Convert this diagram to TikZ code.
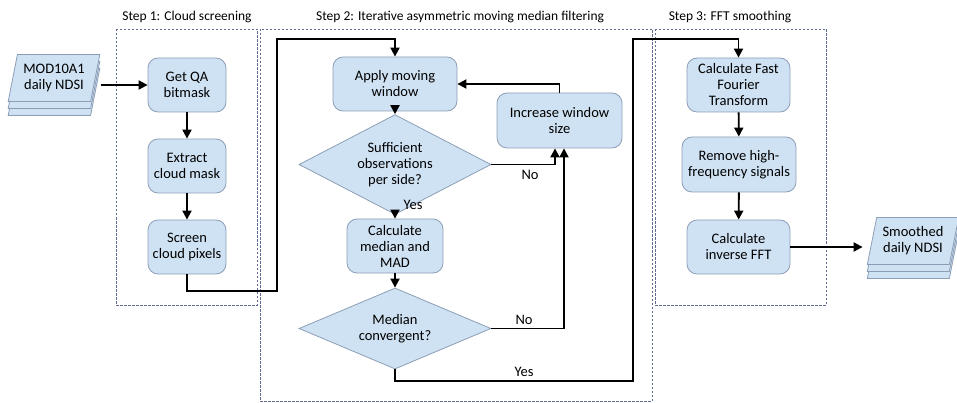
\documentclass[tikz,border=0pt]{standalone}
\usepackage{fontspec}
\setmainfont{Carlito}
\usetikzlibrary{arrows.meta,shapes.geometric,shadows}

\definecolor{boxfill}{RGB}{207,226,243}
\definecolor{boxline}{RGB}{140,158,182}
\definecolor{frameline}{RGB}{95,108,150}

\tikzset{every picture/.style={line width=0.75pt}}
\tikzset{
  procbox/.style={draw=boxline, fill=boxfill, line width=0.8pt, rounded corners=10pt, minimum height=54pt, inner sep=2pt, align=center, font=\fontsize{14.5}{16}\selectfont},
  decbox/.style={diamond, draw=boxline, fill=boxfill, line width=0.8pt, inner xsep=0pt, inner ysep=-10pt, minimum width=192pt, align=center, font=\fontsize{14.5}{16}\selectfont},
  datastack/.style={trapezium, trapezium left angle=76, trapezium right angle=104, trapezium stretches=true, minimum width=92pt, minimum height=47pt, draw=boxline, fill=boxfill, line width=0.8pt, double copy shadow={shadow xshift=0pt, shadow yshift=-7pt, draw=boxline, fill=boxfill, line width=0.8pt}, align=center, font=\fontsize{14.5}{16}\selectfont},
  flow/.style={line width=1.9pt, -{Triangle[length=9pt,width=9pt]}},
  stepframe/.style={draw=frameline, line width=0.8pt, dash pattern=on 2.5pt off 1.5pt},
  steptitle/.style={font=\fontsize{13.5}{15}\selectfont},
  lbl/.style={font=\fontsize{14.5}{16}\selectfont}
}

\begin{document}
\begin{tikzpicture}[x=1pt,y=1pt,yscale=-1,xscale=1]
	\useasboundingbox (0,0) rectangle (957,403);

	%Shape: Rectangle (step frames)
	\draw [stepframe] (116,29) rectangle (257,305);
	\draw [stepframe] (260,29) rectangle (652,401);
	\draw [stepframe] (655,29) rectangle (826,305);

	% Text Node
	\draw (187,17) node [steptitle] (t1) {Step 1: Cloud screening};
	% Text Node
	\draw (460,17) node [steptitle] (t2) {Step 2: Iterative asymmetric moving median filtering};
	% Text Node
	\draw (730,17) node [steptitle] (t3) {Step 3: FFT smoothing};

	%Shape: Data stack
	\node [datastack] (mod) at (54,78) {MOD10A1\\daily NDSI};
	\node [datastack] (smooth) at (913,241) {Smoothed\\daily NDSI};

	%Shape: Rounded Rect (step 1)
	\node [procbox, minimum width=78pt] (qa) at (187,85) {Get QA\\bitmask};
	\node [procbox, minimum width=78pt] (ext) at (187,166) {Extract\\cloud mask};
	\node [procbox, minimum width=78pt] (scr) at (187,247) {Screen\\cloud pixels};

	%Shape: Rounded Rect and Diamond (step 2)
	\node [procbox, minimum width=124pt] (apply) at (395,84) {Apply moving\\window};
	\node [procbox, minimum width=125pt, minimum height=55pt] (incr) at (559.5,120.5) {Increase window\\size};
	\node [decbox, minimum height=65pt] (suff) at (395,164.5) {Sufficient\\observations\\per side?};
	\node [procbox, minimum width=96pt] (calc) at (395,246) {Calculate\\median and\\MAD};
	\node [decbox, minimum height=51pt] (conv) at (395,328.5) {Median\\convergent?};

	%Shape: Rounded Rect (step 3)
	\node [procbox, minimum width=103pt] (fft) at (738.5,85) {Calculate Fast\\Fourier\\Transform};
	\node [procbox, minimum width=114pt, minimum height=55pt] (hfs) at (739,164.5) {Remove high-\\frequency signals};
	\node [procbox, minimum width=103pt] (ifft) at (738.5,247) {Calculate\\inverse FFT};

	% bends of the long connectors
	\coordinate (ja) at (277,291);
	\coordinate (jb) at (277,39);
	\coordinate (jc) at (633,381);
	\coordinate (jd) at (633,39);

	%Straight Lines
	\draw [flow] ([xshift=5pt]mod.east |- qa.west) -- (qa.west);
	\draw [flow] (qa) -- (ext);
	\draw [flow] (ext) -- (scr);
	\draw [flow] (scr.south) |- (ja) -- (jb) -| (apply.north);
	\draw [flow] (apply) -- (suff);
	\draw [flow] (suff) -- (calc);
	\draw [flow] (calc) -- (conv);
	\draw [flow] (suff.east) -| ([xshift=-4.5pt]incr.south);
	\draw [flow] (conv.east) -| ([xshift=4.5pt]incr.south);
	\draw [flow] (incr.north) |- (apply.east);
	\draw [flow] (conv.south) |- (jc) -- (jd) -| (fft.north);
	\draw [flow] (fft) -- (hfs);
	\draw [flow] (hfs) -- (ifft);
	\draw [flow, shorten >=9pt] (ifft.east) -- (ifft.east -| smooth.west);

	% Text Node
	\draw (413,205) node [lbl] (yes1) {Yes};
	% Text Node
	\draw (530,175) node [lbl] (no1) {No};
	% Text Node
	\draw (524,320) node [lbl] (no2) {No};
	% Text Node
	\draw (524,372) node [lbl] (yes2) {Yes};

\end{tikzpicture}
\end{document}
